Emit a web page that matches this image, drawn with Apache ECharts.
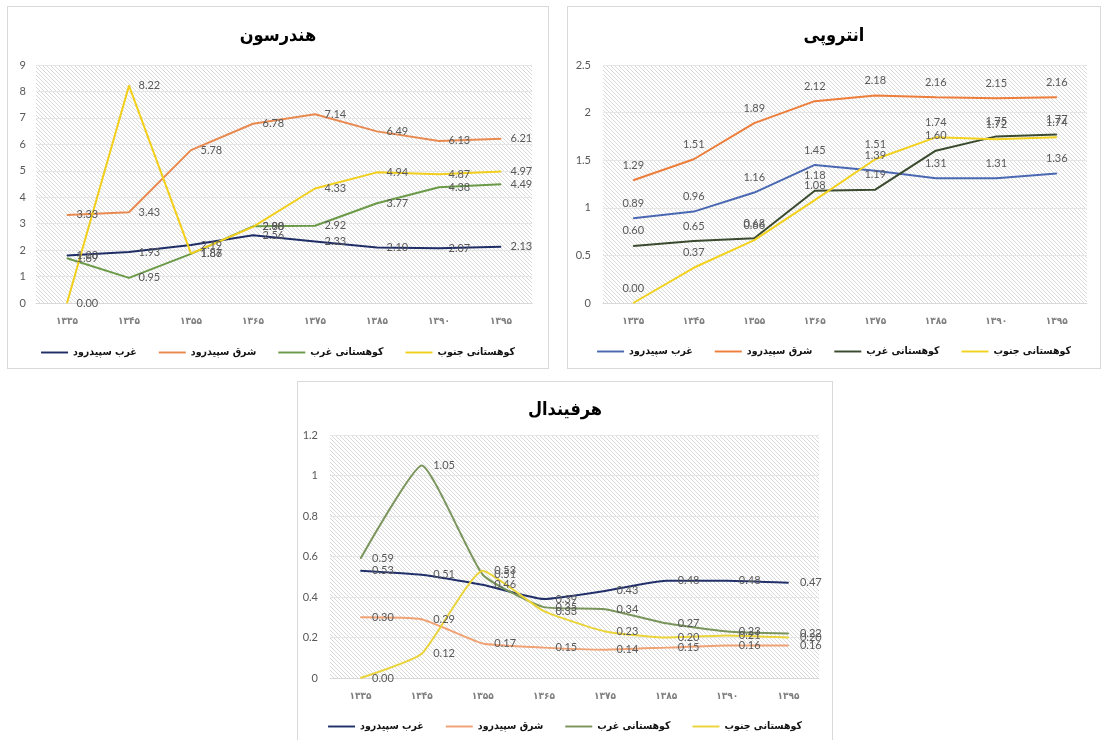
<!DOCTYPE html>
<html><head><meta charset="utf-8">
<script src="https://cdn.jsdelivr.net/npm/echarts@6/dist/echarts.min.js"></script>
<style>
html,body{margin:0;padding:0;background:#fff;width:1102px;height:740px;overflow:hidden;}
.box{position:absolute;outline:1px solid #d9d9d9;background:#fff;}
</style></head>
<body>
<div id="c1" class="box" style="left:8px;top:7px;width:540px;height:361px;"></div>
<div id="c2" class="box" style="left:568px;top:7px;width:532px;height:361px;"></div>
<div id="c3" class="box" style="left:298px;top:382px;width:534px;height:360px;"></div>
<script>
// ---- data ----
const categories = ['۱۳۳۵','۱۳۴۵','۱۳۵۵','۱۳۶۵','۱۳۷۵','۱۳۸۵','۱۳۹۰','۱۳۹۵'];
const seriesNames = ['غرب سپیدرود','شرق سپیدرود','کوهستانی غرب','کوهستانی جنوب'];

// هندرسون
const hendWest      = [1.80, 1.93, 2.19, 2.56, 2.33, 2.10, 2.07, 2.13];
const hendEast      = [3.33, 3.43, 5.78, 6.78, 7.14, 6.49, 6.13, 6.21];
const hendWestMtn   = [1.69, 0.95, 1.86, 2.90, 2.92, 3.77, 4.38, 4.49];
const hendSouthMtn  = [0.00, 8.22, 1.87, 2.88, 4.33, 4.94, 4.87, 4.97];

// انتروپی
const entWest       = [0.89, 0.96, 1.16, 1.45, 1.39, 1.31, 1.31, 1.36];
const entEast       = [1.29, 1.51, 1.89, 2.12, 2.18, 2.16, 2.15, 2.16];
const entWestMtn    = [0.60, 0.65, 0.68, 1.18, 1.19, 1.60, 1.75, 1.77];
const entSouthMtn   = [0.00, 0.37, 0.66, 1.08, 1.51, 1.74, 1.72, 1.74];

// هرفیندال
const herWest       = [0.53, 0.51, 0.46, 0.39, 0.43, 0.48, 0.48, 0.47];
const herEast       = [0.30, 0.29, 0.17, 0.15, 0.14, 0.15, 0.16, 0.16];
const herWestMtn    = [0.59, 1.05, 0.51, 0.35, 0.34, 0.27, 0.23, 0.22];
const herSouthMtn   = [0.00, 0.12, 0.53, 0.33, 0.23, 0.20, 0.21, 0.20];

// ---- styling helpers ----
function hatch(){
  const s = 4, c = document.createElement('canvas');
  c.width = s; c.height = s;
  const g = c.getContext('2d');
  g.fillStyle = '#ffffff'; g.fillRect(0,0,s,s);
  g.strokeStyle = '#dadada'; g.lineWidth = 1;
  g.beginPath();
  g.moveTo(-1,-1); g.lineTo(s+1,s+1);
  g.moveTo(-1,s-1); g.lineTo(1,s+1);
  g.moveTo(s-1,-1); g.lineTo(s+1,1);
  g.stroke();
  return c;
}
const pattern = {image: hatch(), repeat: 'repeat'};
const numFont = 'Lato, "DejaVu Sans", sans-serif';
const faFont = '"DejaVu Sans Condensed", "DejaVu Sans", sans-serif';

function build(cfg){
  return {
    animation: false,
    title: {text: cfg.title, left: 'center', top: cfg.titleTop,
      textStyle: {fontFamily: faFont, fontSize: 18, fontWeight: 'bold', color: '#000'}},
    legend: {data: seriesNames, left: 'center', top: cfg.legendTop, itemWidth: 27, itemHeight: 10,
      itemGap: 22, icon: 'path://M0,4 L28,4 L28,6 L0,6 Z',
      textStyle: {fontFamily: faFont, fontSize: 10.5, fontWeight: 'bold', color: '#111'}},
    grid: {left: cfg.grid[0], right: cfg.grid[1], top: cfg.grid[2], bottom: cfg.grid[3],
      show: true, backgroundColor: pattern, borderWidth: 0},
    xAxis: {type: 'category', data: categories, boundaryGap: true,
      axisLine: {lineStyle: {color: '#d9d9d9'}}, axisTick: {show: false},
      axisLabel: {margin: 13, fontFamily: faFont, fontSize: 10, fontWeight: 'bold', color: '#7f7f7f'}},
    yAxis: {type: 'value', min: 0, max: cfg.max, interval: cfg.interval,
      axisLine: {show: false}, axisTick: {show: false},
      splitLine: {lineStyle: {color: '#e6e6e6'}},
      axisLabel: {margin: cfg.yMargin, fontFamily: numFont, fontSize: 11, color: '#595959'}},
    series: cfg.values.map((v, i) => ({
      name: seriesNames[i], type: 'line', data: v, smooth: cfg.smooth,
      symbol: 'circle', symbolSize: 1, showSymbol: true, showAllSymbol: true,
      color: cfg.colors[i],
      itemStyle: {color: cfg.colors[i]},
      lineStyle: {width: 2, color: cfg.colors[i]},
      label: {show: true, position: cfg.labelPos, distance: cfg.labelDist,
        formatter: p => Number(p.value).toFixed(2),
        fontFamily: numFont, fontSize: 11, color: '#595959'}
    }))
  };
}

const c1 = echarts.init(document.getElementById('c1'), null, {renderer: 'canvas'});
c1.setOption(build({
  title: 'هندرسون', titleTop: 15, legendTop: 335, grid: [28, 16, 58, 65],
  max: 9, interval: 1, yMargin: 10, smooth: false, labelPos: 'right', labelDist: 9,
  colors: ['#1f2d66', '#e8894f', '#6a9a47', '#f2cf1c'],
  values: [hendWest, hendEast, hendWestMtn, hendSouthMtn]
}));

const c2 = echarts.init(document.getElementById('c2'), null, {renderer: 'canvas'});
c2.setOption(build({
  title: 'انتروپی', titleTop: 15, legendTop: 334, grid: [35, 13, 58, 65],
  max: 2.5, interval: 0.5, yMargin: 12, smooth: false, labelPos: 'top', labelDist: 9,
  colors: ['#4a68b2', '#ec7d3a', '#3a4a2e', '#f2d11f'],
  values: [entWest, entEast, entWestMtn, entSouthMtn]
}));

const c3 = echarts.init(document.getElementById('c3'), null, {renderer: 'canvas'});
c3.setOption(build({
  title: 'هرفیندال', titleTop: 14, legendTop: 334, grid: [32, 13, 53, 64],
  max: 1.2, interval: 0.2, yMargin: 12, smooth: 0.15, labelPos: 'right', labelDist: 11,
  colors: ['#22306a', '#f0a274', '#7a955c', '#ead43a'],
  values: [herWest, herEast, herWestMtn, herSouthMtn]
}));
</script>
</body></html>
